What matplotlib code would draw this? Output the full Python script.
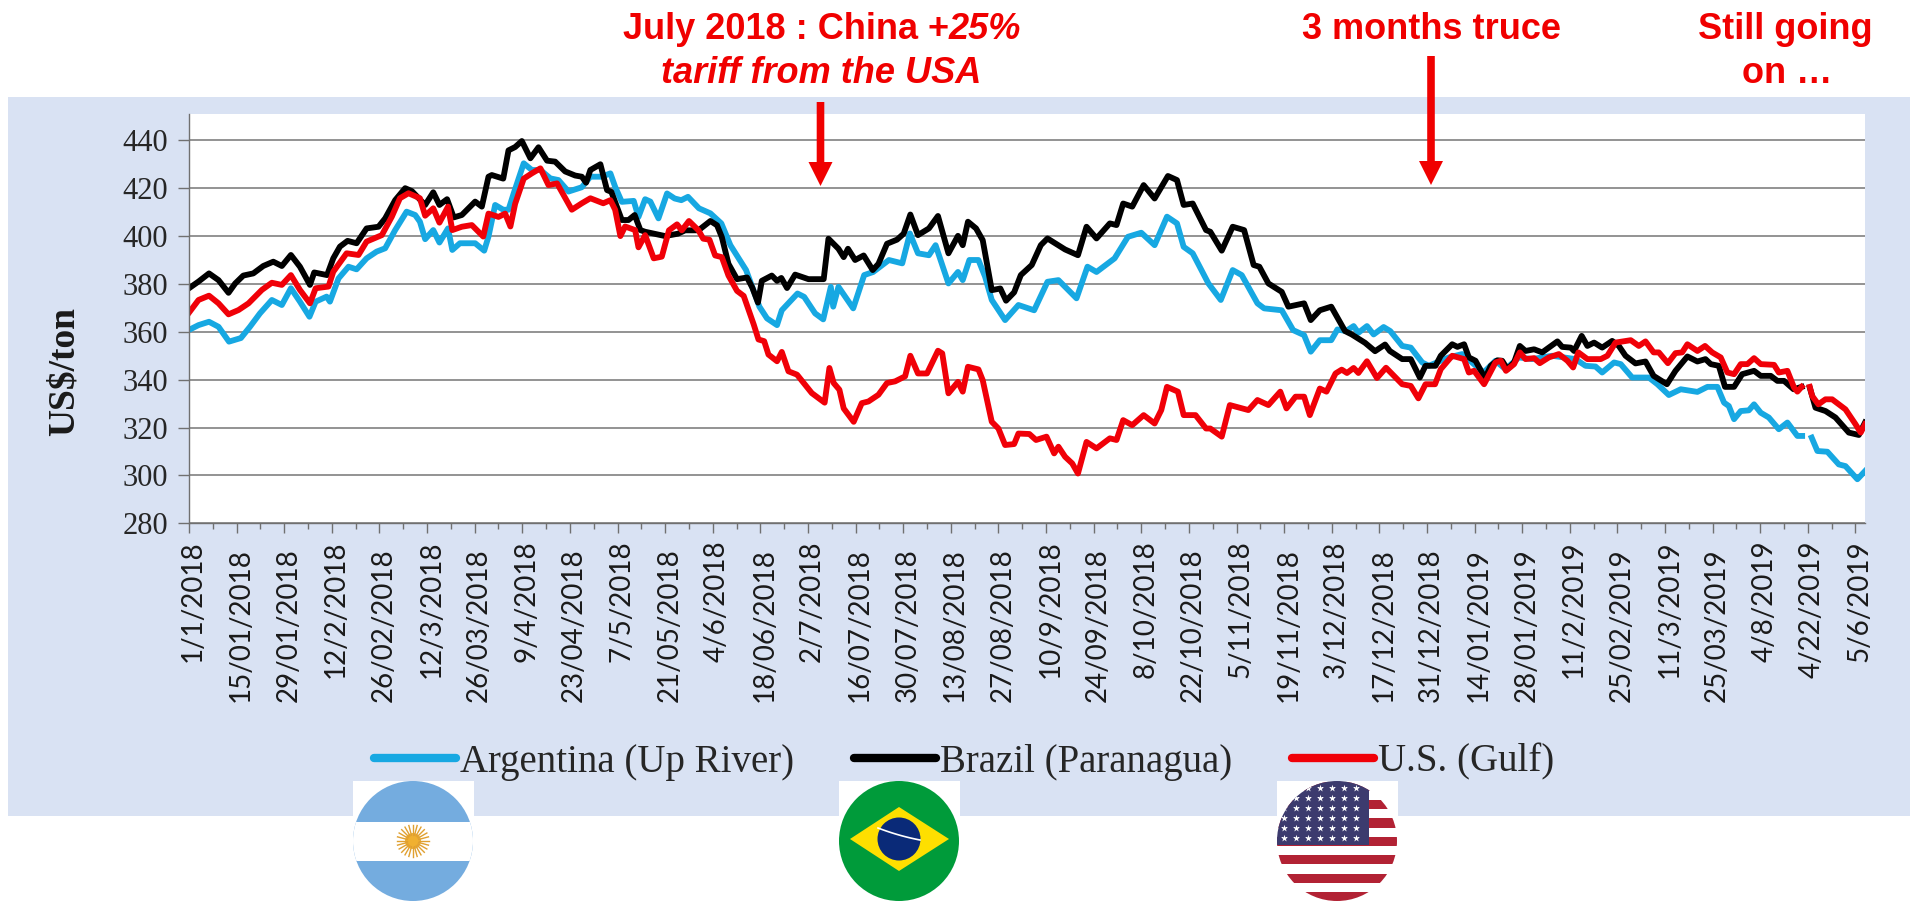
import numpy as np
import matplotlib
matplotlib.use("Agg")
import matplotlib.pyplot as plt
from matplotlib.patches import Rectangle, Circle, Polygon
from matplotlib.transforms import ScaledTranslation

# x values are positions on the category axis (one step = one business day)
date_labels = ["1/1/2018", "15/01/2018", "29/01/2018", "12/2/2018", "26/02/2018", "12/3/2018",
               "26/03/2018", "9/4/2018", "23/04/2018", "7/5/2018", "21/05/2018", "4/6/2018",
               "18/06/2018", "2/7/2018", "16/07/2018", "30/07/2018", "13/08/2018", "27/08/2018",
               "10/9/2018", "24/09/2018", "8/10/2018", "22/10/2018", "5/11/2018", "19/11/2018",
               "3/12/2018", "17/12/2018", "31/12/2018", "14/01/2019", "28/01/2019", "11/2/2019",
               "25/02/2019", "11/3/2019", "25/03/2019", "4/8/2019", "4/22/2019", "5/6/2019"]

arg_x = [0, 2, 4.2, 6.2, 8.4, 10.9, 12.8, 14.9, 17.4, 19.5, 21.4, 23.3, 25.3, 26.6, 28.9, 29.6, 31.4, 33.5,
         35.2, 37.3, 39.4, 41.2, 43.3, 45.7, 47.5, 48.5, 49.6, 51.3, 52.6, 54.4, 55.3, 56.9, 60.1, 62, 62.9,
         64.3, 66, 67.1, 68.2, 70.3, 72, 73.8, 75.9, 77.6, 79.7, 82.5, 84.3, 86.7, 88.5, 89.5, 90.9, 93.4,
         94.4, 95.8, 96.9, 98.6, 100.4, 102, 103.4, 104.8, 107.1, 109.5, 111.8, 113.7, 117, 119.8, 121.4,
         123.5, 124.5, 127.8, 129.2, 131.5, 133.2, 134.8, 135.3, 136.4, 139.5, 141.8, 143.7, 147, 149.8,
         151.4, 153.1, 155.4, 156.8, 159.5, 161.5, 162.5, 163.9, 165.8, 167.2, 168.6, 171.4, 174.2, 177.5,
         180.3, 182.6, 186.4, 188.7, 190.6, 194.4, 197.2, 200, 202.8, 205.4, 207.5, 208.9, 210.8, 214.1,
         216.7, 219.2, 221.1, 224.4, 225.8, 229.5, 231.9, 234.2, 235.6, 237.5, 239.9, 241.2, 243, 244.6,
         245.6, 247.4, 248.8, 250.9, 252.3, 254.8, 256.6, 259, 260.4, 264.6, 267.4, 271.9, 274.4, 276.5,
         279.3, 282.1, 286.3, 291.2, 293.3, 295.4, 296.8, 299.3, 300.7, 303.1, 306.6, 308.4, 310.8, 313.3,
         316.8, 318.9, 321, 322.4, 323.4, 324.5, 325.9, 327.6, 328.7, 330.1, 331.8, 333.9, 335.7, 337.8,
         338.8, 339.5, 340.8, 342, 344.1, 346.5, 347.9, 350.4, 352]
arg_y = [360.8, 362.8, 364.2, 362.1, 355.9, 357.4, 362.1, 367.7, 373.3, 371.2, 378.2, 372.6, 366.3, 372.6,
         374.7, 372.6, 382.3, 387.2, 386.1, 390.7, 393.5, 394.9, 402.5, 410.2, 408.8, 406, 398.7, 402.5,
         397.3, 403.2, 394.2, 397, 397, 393.9, 399.8, 413, 411, 411, 417.9, 430.4, 427.6, 427.6, 424.1,
         423.4, 418.6, 420.4, 424.8, 424.8, 426.2, 420.6, 414.3, 414.7, 408, 415.4, 414.4, 407.4, 417.8,
         415.7, 415, 416.4, 411.6, 409.5, 405.3, 396.2, 385.8, 370.5, 365.6, 362.8, 369, 376, 374.6, 367.7,
         365.2, 378.8, 370.5, 378.8, 369.8, 383.7, 385, 390, 388.6, 401.1, 392.8, 392, 396.2, 380.2, 385,
         381.6, 390, 390, 383, 373.3, 364.9, 371.2, 369, 380.9, 381.6, 374, 387.2, 385, 390.7, 399.7, 401.4,
         396.2, 408.1, 405.3, 395.5, 392.8, 380.2, 373.3, 385.8, 383.7, 371.9, 369.8, 369, 360.7, 358.6,
         351.7, 356.5, 356.5, 361, 360.3, 362.4, 359.6, 362.4, 358.9, 362, 360.3, 354.1, 353.4, 347.2, 345.8,
         349.3, 350.7, 343, 347.9, 344.4, 349.3, 348.6, 350, 348.6, 345.8, 345.5, 343, 347.2, 346.5, 340.9,
         340.9, 338.1, 333.6, 336, 334.9, 337, 337, 330.4, 329, 323.5, 326.9, 327.2, 329.7, 326.2, 324.2,
         319.3, 322.1, 316.5, 316.5, np.nan, 315.8, 310.2, 309.9, 304.6, 303.9, 298.4, 301.8]

bra_x = [0, 2, 4.2, 6.2, 8.3, 9.7, 11.4, 13.5, 15.6, 17.7, 19.5, 21.4, 23.3, 25.4, 26.3, 29, 30.3, 31.7, 33.3,
         35.2, 37.3, 39.8, 41.2, 43.3, 45.4, 46.8, 49.6, 51.3, 52.6, 54.2, 55.6, 57.3, 58.7, 60.1, 61.5,
         62.9, 63.6, 66, 67.1, 68.5, 69.9, 71.7, 73.4, 75.2, 76.9, 79, 81.1, 82.5, 83.4, 84.3, 86.4, 87.8,
         88.7, 90.9, 92.3, 93.6, 94.8, 95.8, 100, 102.7, 104.2, 107, 109.5, 110.9, 111.9, 113.3, 115.1,
         117.2, 118.3, 119.5, 120.3, 122.4, 123.5, 124.4, 125.6, 127.3, 130.1, 133.3, 134.3, 136.4, 137.5,
         138.4, 139.9, 141.7, 143.6, 144.8, 146.6, 148.7, 150.1, 151.5, 153.1, 155.4, 157.3, 159.5, 161.5,
         162.5, 163.6, 165.3, 166.7, 168.6, 170.4, 171.6, 173.3, 174.7, 177, 178.9, 180.3, 184, 186.7, 188.5,
         190.6, 193.4, 194.8, 196.2, 198.1, 200.5, 202.8, 205.6, 207.5, 208.9, 210.8, 213.6, 214.5, 216.9,
         219.2, 221.6, 223.6, 224.8, 226.7, 229.5, 230.9, 234.2, 235.6, 237.5, 239.9, 242.8, 244.2, 247,
         249.1, 251.2, 252.2, 254.8, 256.6, 258.5, 259.7, 261.8, 262.9, 265.3, 266.4, 267.8, 268.8, 270.2,
         272.2, 273.4, 274.8, 275.8, 276.9, 278.3, 279.5, 280.7, 282.5, 284.2, 287.4, 288.4, 290.2, 290.9,
         292.5, 293.7, 295.1, 296.8, 298.9, 300.3, 301.7, 303.8, 305.9, 307.6, 310.4, 312.2, 314.7, 316.8,
         318.5, 319.6, 321.3, 322.6, 324.5, 326.2, 328.7, 330.1, 332.2, 333.6, 335, 337, 338.7, 339.5,
         340.4, 341.6, 343.7, 345.8, 348.6, 350.7, 352]
bra_y = [378.2, 381, 384.4, 381.6, 376.3, 380.2, 383.5, 384.4, 387.5, 389.3, 387.5, 392.1, 387.2, 379.6, 384.8,
         383.7, 390.7, 395.6, 398, 397, 403.2, 403.9, 407.4, 415, 420, 418.8, 413, 418.3, 413, 415.4, 407.8,
         408.8, 411.6, 414.4, 412.3, 424.8, 425.5, 424, 435.8, 437.2, 439.7, 432.5, 437.1, 431.5, 431.1,
         427, 425.3, 424.8, 422.3, 427.6, 430, 419.2, 418.5, 406.7, 406.7, 408.8, 402.5, 401.8, 400, 401,
         402.4, 402.4, 406.3, 404.5, 399.6, 388.4, 382, 382.7, 378.5, 372.2, 381.3, 383.5, 381.3, 382.5,
         378.3, 383.9, 382, 382, 398.9, 394.7, 391.2, 394.7, 390, 391.9, 385.8, 388.4, 396.8, 398.5, 401,
         409, 400.4, 403.2, 408.4, 392.8, 400.1, 396.2, 406, 403.2, 398.3, 377.4, 378.1, 373, 376.5, 383.7,
         387.9, 396.2, 399, 394.4, 392, 403.9, 399, 405.3, 404.6, 413.6, 412.3, 421.3, 415.7, 425.1, 423.4,
         413, 413.6, 402.5, 401.8, 393.9, 403.9, 402.5, 387.9, 387.2, 380.2, 376.7, 370.5, 371.9, 364.9,
         369, 370.5, 360.3, 358.9, 355.4, 351.9, 354.7, 352, 348.6, 348.6, 340.9, 345.8, 345.8, 350, 354.8,
         353.7, 354.8, 349.3, 347.9, 340.6, 345.8, 348.1, 347.9, 344.4, 347.2, 354.1, 352, 352.7, 351.4, 356,
         353.7, 353.4, 352, 358.3, 354.1, 355.5, 353.4, 356.2, 354.1, 350, 346.8, 347.6, 341.6, 338.1,
         343.7, 349.7, 347.6, 348.6, 346.5, 345.8, 337, 337, 342.3, 343.7, 341.6, 341.6, 339.5, 339.5, 336,
         337, np.nan, 336.7, 328.3, 326.9, 324.2, 317.9, 316.9, 322.1]

usa_x = [0, 2, 4.2, 6.2, 8.3, 10.4, 12.5, 15.3, 17.4, 19.5, 21.4, 23.3, 25.4, 26.6, 29.3, 30.3, 33.1, 35.6,
         37.3, 40.5, 42.6, 44.3, 46.1, 48.5, 49.6, 51.3, 52.6, 54.4, 55.3, 57.3, 59.4, 61.8, 62.9, 65, 66.4,
         67.5, 68.5, 70.3, 72, 73.8, 75.5, 77.3, 80.4, 82.5, 84.3, 87, 88.5, 89.5, 90.6, 91.6, 93.7, 94.4,
         95.8, 97.6, 99.3, 100.8, 102.5, 103.5, 105, 107, 108, 109.3, 110.5, 111.9, 113.3, 115.1, 116.5,
         118.6, 119.6, 120.8, 121.7, 123.5, 124.5, 125.9, 127.7, 130.8, 133.5, 134.5, 135.4, 136.6, 137.5,
         139.6, 141.3, 142.7, 144.8, 146.6, 148.3, 150.4, 151.5, 153.1, 155, 157.3, 158.2, 159.5, 161.5,
         162.5, 163.6, 165.8, 166.7, 168.6, 170, 171.4, 173.3, 174.2, 176.5, 177.9, 180.1, 181.7, 182.6, 184,
         185.5, 186.7, 188.5, 190.6, 193.4, 194.8, 196.2, 198.1, 200.5, 202.8, 204.2, 205.4, 207.7, 208.9,
         211.4, 213.6, 214.5, 216.9, 218.6, 222.5, 224.4, 226.7, 229.2, 230.5, 232.4, 234.2, 235.4, 237.5,
         238.9, 240.8, 242.1, 243.2, 244.6, 245.6, 247.4, 249.5, 251.4, 254.8, 256.6, 258.2, 259.7, 261.7,
         262.9, 265.3, 267.8, 268.8, 269.9, 272, 274.4, 275.5, 276.6, 278.3, 279.5, 280.7, 282.5, 283.7,
         285.6, 287.7, 289.5, 290.7, 291.8, 293.7, 296.5, 297.9, 299.6, 302.8, 304.5, 305.9, 307.6, 308.7,
         310.6, 312.2, 313.6, 314.7, 316.8, 318.4, 319.9, 321.7, 323.1, 324.5, 325.9, 327.3, 328.7, 330.1,
         332.9, 333.9, 335.7, 337.1, 337.8, 338.7, 339.5, 340.4, 340.9, 342.2, 343.7, 345.1, 347.9, 350,
         351.1, 352]
usa_y = [368, 373.3, 375.1, 371.9, 367.3, 369.1, 371.9, 377.5, 380.5, 379.6, 383.7, 377.5, 371.9, 378.2, 378.9,
         385.1, 392.8, 392.1, 397.7, 400.4, 408.1, 415.8, 417.9, 415.8, 408.5, 411.6, 405.6, 412.3, 402.5,
         403.9, 404.6, 399.8, 409.4, 408, 409.4, 404, 413.5, 424, 426.2, 428.3, 421.3, 422, 411, 413.7, 415.8,
         413.7, 415, 411, 400, 404, 402.5, 395.3, 400.4, 390.7, 391.4, 402.4, 404.9, 402.4, 406.3, 402.4,
         398.9, 398.5, 391.9, 391.2, 383.5, 377.1, 375, 363.1, 356.8, 356.1, 350.5, 347.7, 351.6, 343.5,
         342.1, 334.4, 330.4, 344.9, 338.6, 335.8, 328, 322.4, 330.2, 330.9, 333.7, 338.6, 339.3, 341.4,
         350, 342.6, 342.6, 352.1, 351, 334.3, 339.1, 335, 345.4, 344.3, 339.8, 322.4, 319.6, 312.7, 313.1,
         317.5, 317.3, 314.8, 316.2, 309.2, 312, 307.8, 305, 300.8, 314, 311.3, 315.5, 314.8, 323.1, 321,
         325.2, 321.7, 327.3, 337, 335, 325.2, 325.2, 319.6, 319.6, 316.2, 329.4, 327.3, 331.5, 329.4, 335,
         328, 332.9, 332.9, 325.2, 336.3, 335, 342.6, 344.2, 342.8, 344.9, 342.8, 347.7, 340.7, 345, 338.1,
         337.4, 332.2, 338.1, 338.1, 344.4, 350, 348.6, 343, 343.7, 338.1, 347.2, 347.9, 343.7, 346.5, 351.4,
         348.6, 349, 346.9, 349.3, 350.7, 347.9, 345.1, 351.4, 348.6, 348.6, 350, 355.5, 356.5, 354.1, 356,
         351.4, 351.4, 346.9, 351.1, 351.4, 354.8, 352, 354.1, 351.4, 349.3, 343, 342.3, 346.5, 346.5, 349,
         346.5, 346.2, 343, 343.7, 336.7, 335, 337, np.nan, 337, 333.2, 329.7, 331.8, 331.8, 327.6, 321.4,
         317.9, 321.4]

series_names = ["Argentina (Up River)", "Brazil (Paranagua)", "U.S. (Gulf)"]
series_colors = ["#17A8E2", "#000000", "#F00008"]

W, H = 1910, 901
band_color = "#D9E2F3"
red = "#F00000"

plt.rcParams["font.family"] = "Liberation Serif"
fig = plt.figure(figsize=(W / 100, H / 100), dpi=100, facecolor="white")


def fx(px):
    return px / W


def fy(py):
    return 1 - py / H


# whole-figure layers in pixel coordinates, for the band, arrows and flags
back = fig.add_axes([0, 0, 1, 1], zorder=0)
back.set_xlim(0, W)
back.set_ylim(H, 0)
back.axis("off")
back.add_patch(Rectangle((8, 97), W - 8, 719, color=band_color, lw=0))

ax = fig.add_axes([fx(189), fy(523.3), fx(1865 - 189), fy(114) - fy(523.3)], zorder=2)
ax.set_facecolor("white")
ax.plot(arg_x, arg_y, color=series_colors[0], lw=4.2, label=series_names[0], solid_joinstyle="round")
ax.plot(bra_x, bra_y, color=series_colors[1], lw=4.2, label=series_names[1], solid_joinstyle="round")
ax.plot(usa_x, usa_y, color=series_colors[2], lw=4.2, label=series_names[2], solid_joinstyle="round")
ax.set_xlim(0, 352)
ax.set_ylim(280, 451)

ax.set_yticks(np.arange(280, 441, 20))
ax.grid(axis="y", color="#808080", lw=1.2, zorder=0)
ax.set_axisbelow(True)
for side in ["top", "right"]:
    ax.spines[side].set_visible(False)
for side in ["left", "bottom"]:
    ax.spines[side].set_color("#707070")
    ax.spines[side].set_linewidth(1)
ax.tick_params(axis="y", length=8, width=1, color="#707070", pad=7, labelsize=22, labelcolor="#262626")

ax.set_xticks(np.arange(0, 351, 10))
ax.set_xticks(np.arange(5, 351, 10), minor=True)
ax.set_xticklabels(date_labels, rotation=90, fontsize=20, family="Lato", color="#1a1a1a")
ax.tick_params(axis="x", which="major", length=7.2, width=1, color="#707070")
ax.tick_params(axis="x", which="minor", length=4.3, width=1, color="#707070")
nudge = ScaledTranslation(3 / 72, 0, fig.dpi_scale_trans)
for tick, lab in zip(ax.xaxis.get_major_ticks(), date_labels):
    tick.set_pad(5 if len(lab) < 10 else 10.5)
    tick.label1.set_transform(tick.label1.get_transform() + nudge)

fig.text(fx(64), fy(372), "US$/ton", rotation=90, ha="center", va="center",
         fontsize=27, fontweight="bold", color="#1a1a1a", zorder=3)

leg = ax.legend(loc="center", bbox_to_anchor=(fx(964), fy(762)), bbox_transform=fig.transFigure,
                ncol=3, frameon=False, fontsize=28, handlelength=2.1, handletextpad=0.1,
                columnspacing=1.55, borderpad=0, labelcolor="#262626")
for line in leg.get_lines():
    line.set_linewidth(6)
    line.set_solid_capstyle("round")

# headline texts
bold = dict(fontsize=26, fontweight="bold", color=red, family="Liberation Sans", va="center", zorder=6)
fig.text(fx(949), fy(29.5), "July 2018 : China +", ha="right", **bold)
fig.text(fx(949), fy(29.5), "25%", ha="left", style="italic", **bold)
fig.text(fx(821), fy(73.5), "tariff from the USA", ha="center", style="italic", **bold)
fig.text(fx(1431), fy(29.5), "3 months truce", ha="center", **bold)
fig.text(fx(1785), fy(29.5), "Still going", ha="center", **bold)
fig.text(fx(1787), fy(73.5), "on \u2026", ha="center", **bold)

top = fig.add_axes([0, 0, 1, 1], zorder=5)
top.set_xlim(0, W)
top.set_ylim(H, 0)
top.axis("off")
top.patch.set_alpha(0)

top.arrow(820.5, 102, 0, 84, width=7.6, head_width=24, head_length=24,
          length_includes_head=True, color=red, lw=0)
top.arrow(1431, 56, 0, 129, width=7.6, head_width=24, head_length=24,
          length_includes_head=True, color=red, lw=0)


def flag_base(cx, color):
    top.add_patch(Rectangle((cx - 60.5, 781), 121, 120, color="white", lw=0))
    disc = Circle((cx, 841), 60, color=color, lw=0)
    top.add_patch(disc)
    return disc


# Argentina
disc = flag_base(413, "#74ACDF")
p = top.add_patch(Rectangle((353, 822), 120, 39, color="white", lw=0))
p.set_clip_path(disc)
for a in np.arange(0, 360, 15):
    ca, sa = np.cos(np.radians(a)), np.sin(np.radians(a))
    top.plot([413 + 6 * ca, 413 + 16 * ca], [841 + 6 * sa, 841 + 16 * sa], color="#E0A030", lw=1)
top.add_patch(Circle((413, 841), 8, color="#F0B030", lw=0))

# Brazil
flag_base(899, "#009B3A")
top.add_patch(Polygon([(850, 839), (899, 807), (949, 839), (899, 871)], color="#FEDF00", lw=0))
top.add_patch(Circle((899, 839), 21.5, color="#0A2A78", lw=0))
arc_t = np.linspace(-1, 1, 20)
top.plot(899 + 21 * arc_t, 834 + 6 * arc_t + 1 - arc_t ** 2, color="white", lw=1.2)

# USA
disc = flag_base(1337, "white")
for yy in np.arange(781.6, 905, 18.4):
    p = top.add_patch(Rectangle((1277, yy), 121, 9.2, color="#B22234", lw=0))
    p.set_clip_path(disc)
p = top.add_patch(Rectangle((1277, 781), 92, 64, color="#3C3B6E", lw=0))
p.set_clip_path(disc)
sx, sy = np.meshgrid(np.arange(1284, 1368, 12), np.arange(788, 845, 10))
stars = top.scatter(sx.ravel(), sy.ravel(), marker="*", s=28, color="white", lw=0)
stars.set_clip_path(disc)

fig.savefig("out.png", dpi=100)
